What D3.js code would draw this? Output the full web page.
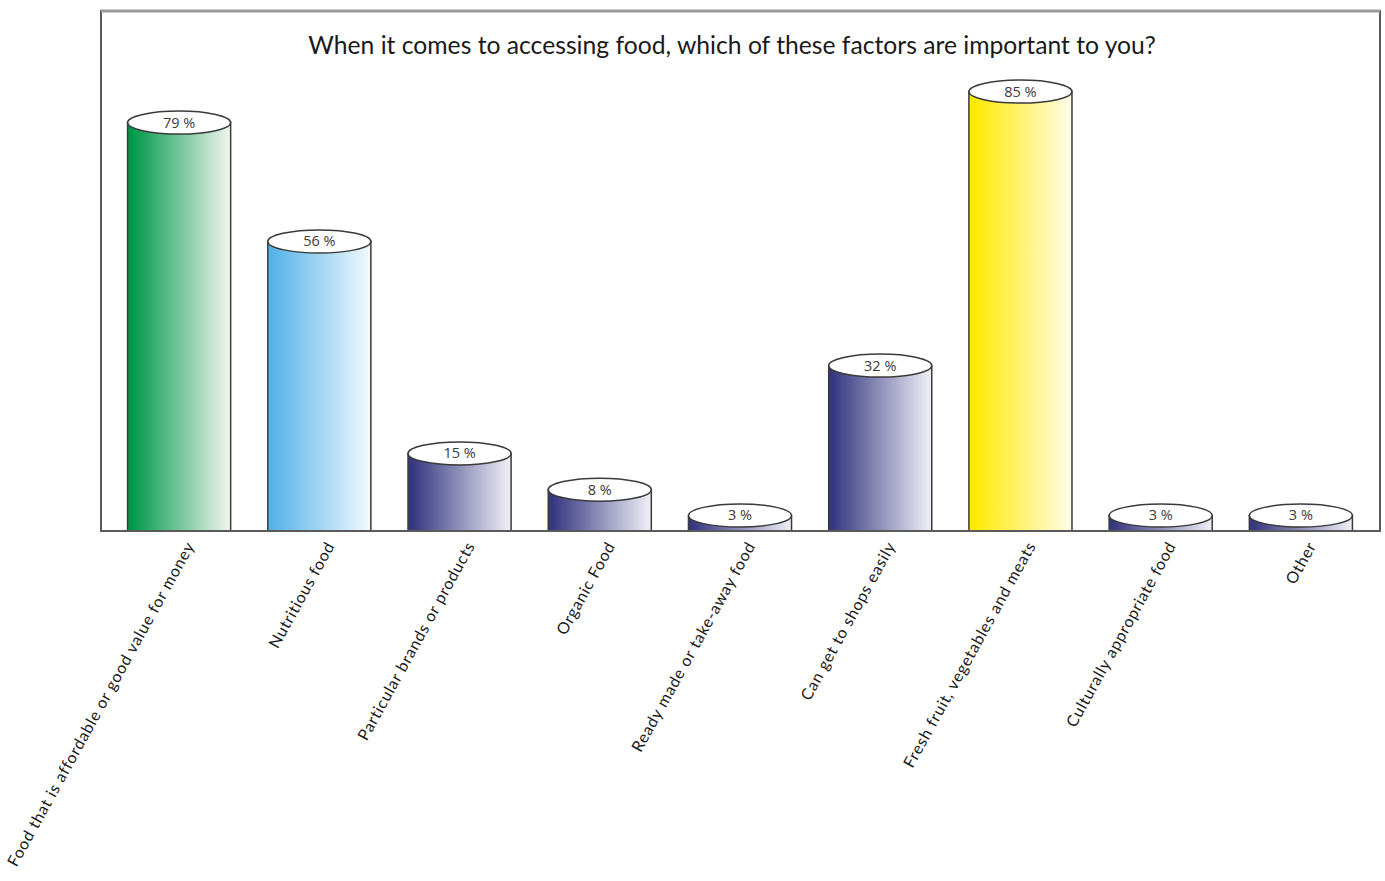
<!DOCTYPE html>
<html>
<head>
<meta charset="utf-8">
<script src="https://cdn.jsdelivr.net/npm/d3@7"></script>
<style>
  html, body { margin: 0; padding: 0; background: #ffffff; }
  svg { display: block; }
</style>
</head>
<body>
<svg id="chart" width="1385" height="881"></svg>
<script>
// ---- data ----
const title = "When it comes to accessing food, which of these factors are important to you?";
const categories = [
  "Food that is affordable or good value for money",
  "Nutritious food",
  "Particular brands or products",
  "Organic Food",
  "Ready made or take-away food",
  "Can get to shops easily",
  "Fresh fruit, vegetables and meats",
  "Culturally appropriate food",
  "Other"
];
const values = [79, 56, 15, 8, 3, 32, 85, 3, 3];
const valueLabels = ["79 %", "56 %", "15 %", "8 %", "3 %", "32 %", "85 %", "3 %", "3 %"];

// ---- styles ----
const gradients = [
  ["#00994a", "#f2f5ef"],
  ["#55b3e8", "#f4f9fe"],
  ["#353880", "#f1f0f8"],
  ["#353880", "#f1f0f8"],
  ["#353880", "#f1f0f8"],
  ["#353880", "#f1f0f8"],
  ["#ffe900", "#fffcea"],
  ["#353880", "#f1f0f8"],
  ["#353880", "#f1f0f8"]
];

const frame = { left: 101, top: 11, right: 1380, bottom: 531 };
const svg = d3.select("#chart");

const x = d3.scaleBand()
  .domain(categories)
  .range([109, 1371])
  .paddingInner(0.265)
  .paddingOuter(0.1325);

const y = d3.scaleLinear()
  .domain([0, 100])
  .range([frame.bottom, frame.bottom - 517]);

const defs = svg.append("defs");
gradients.forEach((g, i) => {
  const lg = defs.append("linearGradient")
    .attr("id", "grad" + i)
    .attr("x1", "0%").attr("x2", "100%").attr("y1", "0%").attr("y2", "0%");
  lg.append("stop").attr("offset", "4%").attr("stop-color", g[0]);
  lg.append("stop").attr("offset", "100%").attr("stop-color", g[1]);
});

// frame
svg.append("rect")
  .attr("x", frame.left).attr("y", frame.top)
  .attr("width", frame.right - frame.left)
  .attr("height", frame.bottom - frame.top)
  .attr("fill", "none")
  .attr("stroke", "#5a5a5a")
  .attr("stroke-width", 2);
svg.append("line")
  .attr("x1", frame.left).attr("x2", frame.right)
  .attr("y1", frame.top).attr("y2", frame.top)
  .attr("stroke", "#9a9a9a").attr("stroke-width", 3);

// title
svg.append("text")
  .attr("x", 732).attr("y", 54)
  .attr("text-anchor", "middle")
  .attr("font-family", "Lato, 'Open Sans', sans-serif")
  .attr("font-size", 24.7)
  .attr("fill", "#1a1a1a")
  .text(title);

const ry = 11.5;
const bars = svg.append("g").selectAll("g")
  .data(categories.map((c, i) => ({ c, v: values[i], lab: valueLabels[i], i })))
  .join("g");

// cylinder bodies
bars.append("rect")
  .attr("x", d => x(d.c))
  .attr("y", d => y(d.v))
  .attr("width", x.bandwidth())
  .attr("height", d => frame.bottom - y(d.v))
  .attr("fill", d => `url(#grad${d.i})`)
  .attr("stroke", "#3a3a3a")
  .attr("stroke-width", 1.5);

// cylinder tops
bars.append("ellipse")
  .attr("cx", d => x(d.c) + x.bandwidth() / 2)
  .attr("cy", d => y(d.v))
  .attr("rx", x.bandwidth() / 2)
  .attr("ry", ry)
  .attr("fill", "#ffffff")
  .attr("stroke", "#3a3a3a")
  .attr("stroke-width", 1.5);

bars.append("text")
  .attr("x", d => x(d.c) + x.bandwidth() / 2)
  .attr("y", d => y(d.v) + 5)
  .attr("text-anchor", "middle")
  .attr("font-family", "'Liberation Sans Narrow', 'Open Sans', sans-serif")
  .attr("font-size", 14.5)
  .attr("fill", "#3a3a3a")
  .text(d => d.lab);

// baseline
svg.append("line")
  .attr("x1", frame.left).attr("x2", frame.right)
  .attr("y1", frame.bottom).attr("y2", frame.bottom)
  .attr("stroke", "#5a5a5a").attr("stroke-width", 2);

// category axis
const axis = svg.append("g")
  .attr("transform", `translate(0,${frame.bottom})`)
  .call(d3.axisBottom(x).tickSize(0).tickPadding(0));
axis.select(".domain").remove();
axis.selectAll("text")
  .attr("font-family", "Lato, 'Open Sans', sans-serif")
  .attr("font-size", 16)
  .attr("letter-spacing", "0.75px")
  .attr("fill", "#1a1a1a")
  .attr("text-anchor", "end")
  .attr("dy", "0.35em")
  .attr("y", 0)
  .attr("transform", "translate(11,12) rotate(-61)");
</script>
</body>
</html>
